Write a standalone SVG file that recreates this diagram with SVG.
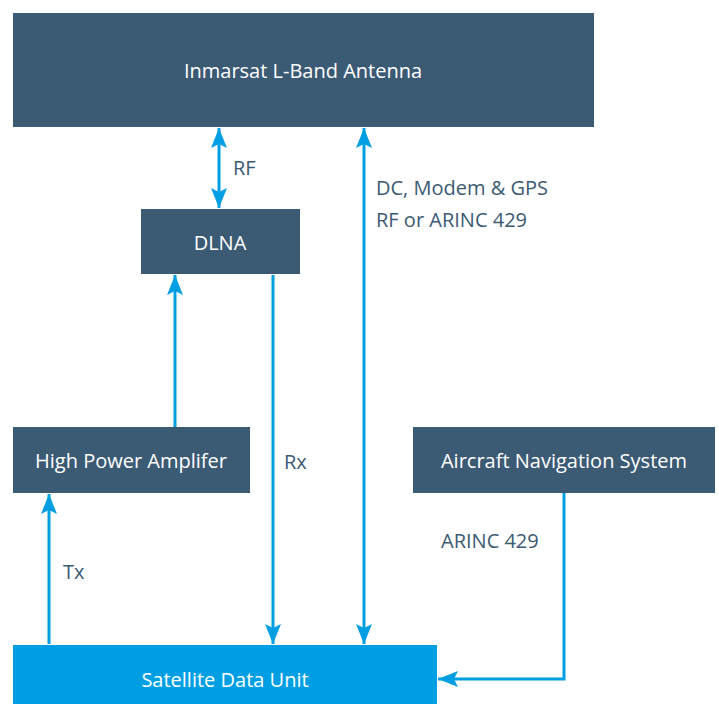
<svg xmlns="http://www.w3.org/2000/svg" width="719" height="704" viewBox="0 0 719 704">
<style>
.box{fill:#3b5a74}
.sdu{fill:#009fe3}
.nt{fill:#ffffff;font-family:"Open Sans","Liberation Sans",sans-serif;font-size:20px;text-anchor:middle;dominant-baseline:central}
.lb{fill:#3b5a74;font-family:"Open Sans","Liberation Sans",sans-serif;font-size:20px}
.ln{stroke:#009fe3;stroke-width:3;fill:none}
</style>
<defs>
<marker id="ah" viewBox="0 0 20 16" refX="20" refY="8" markerWidth="20" markerHeight="16" markerUnits="userSpaceOnUse" orient="auto-start-reverse">
<path d="M0,0 L20,8 L0,16 L4,8 Z" fill="#009fe3"/>
</marker>
</defs>
<rect width="719" height="704" fill="#ffffff"/>
<g id="antenna"><rect class="box" x="13" y="13" width="581" height="114"/><text class="nt" x="303" y="70">Inmarsat L-Band Antenna</text></g>
<g id="dlna"><rect class="box" x="141" y="209" width="159" height="65"/><text class="nt" x="220" y="242">DLNA</text></g>
<g id="hpa"><rect class="box" x="13" y="427" width="237" height="66"/><text class="nt" x="131" y="460">High Power Amplifer</text></g>
<g id="ans"><rect class="box" x="413" y="427" width="302" height="66"/><text class="nt" x="564" y="460">Aircraft Navigation System</text></g>
<g id="sdu"><rect class="sdu" x="13" y="645" width="424" height="59"/><text class="nt" x="225" y="679">Satellite Data Unit</text></g>
<g id="connectors">
<line class="ln" x1="219" y1="128" x2="219" y2="208" marker-start="url(#ah)" marker-end="url(#ah)"/>
<line class="ln" x1="364" y1="128" x2="364" y2="644" marker-start="url(#ah)" marker-end="url(#ah)"/>
<line class="ln" x1="175" y1="427" x2="175" y2="275" marker-end="url(#ah)"/>
<line class="ln" x1="273" y1="275" x2="273" y2="644" marker-end="url(#ah)"/>
<line class="ln" x1="49" y1="644" x2="49" y2="494" marker-end="url(#ah)"/>
<polyline class="ln" points="564,493 564,679 438,679" marker-end="url(#ah)"/>
</g>
<g id="labels">
<text class="lb" x="233" y="175">RF</text>
<text class="lb" x="376" y="195">DC, Modem &amp; GPS</text>
<text class="lb" x="376" y="227">RF or ARINC 429</text>
<text class="lb" x="284" y="469">Rx</text>
<text class="lb" x="63" y="579">Tx</text>
<text class="lb" x="441" y="548">ARINC 429</text>
</g>
</svg>
